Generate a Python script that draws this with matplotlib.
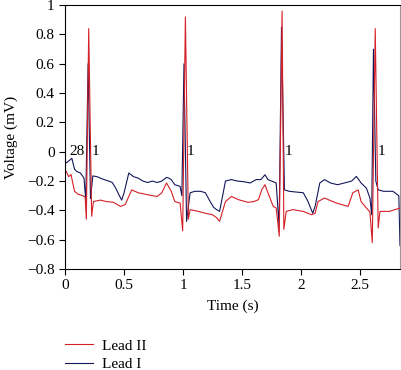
import matplotlib
matplotlib.use("Agg")
from matplotlib import pyplot as plt
from matplotlib.ticker import FuncFormatter

plt.rcParams['font.family'] = ['Liberation Serif', 'DejaVu Serif']
plt.rcParams['axes.unicode_minus'] = True

# Lead I (blue)
lead1_t = [0.00, 0.02, 0.057, 0.08, 0.10, 0.13, 0.16, 0.175, 0.195, 0.215, 0.235,
           0.27, 0.30, 0.33, 0.37, 0.40, 0.43, 0.46, 0.48, 0.50, 0.54, 0.58, 0.62,
           0.66, 0.70, 0.74, 0.78, 0.82, 0.86, 0.88, 0.90, 0.93, 0.975, 0.99, 1.008,
           1.03, 1.06, 1.10, 1.15, 1.19, 1.23, 1.26, 1.285, 1.31, 1.36, 1.41, 1.46,
           1.52, 1.57, 1.62, 1.66, 1.695, 1.72, 1.79, 1.815, 1.835, 1.86, 1.90, 1.96,
           2.02, 2.06, 2.10, 2.12, 2.16, 2.20, 2.25, 2.31, 2.36, 2.43, 2.47, 2.51,
           2.555, 2.585, 2.60, 2.615, 2.635, 2.655, 2.70, 2.78, 2.83, 2.84]
lead1_v = [-0.08, -0.07, -0.045, -0.12, -0.135, -0.145, -0.18, -0.33, 0.60, -0.32, -0.165,
           -0.17, -0.18, -0.19, -0.20, -0.21, -0.25, -0.30, -0.33, -0.28, -0.145, -0.17, -0.18,
           -0.20, -0.21, -0.20, -0.21, -0.20, -0.175, -0.18, -0.19, -0.225, -0.236, -0.30, 0.60,
           -0.475, -0.28, -0.27, -0.27, -0.28, -0.34, -0.38, -0.395, -0.407, -0.20, -0.19, -0.20,
           -0.205, -0.213, -0.19, -0.19, -0.157, -0.19, -0.213, -0.51, 0.85, -0.26, -0.27, -0.275,
           -0.28, -0.34, -0.42, -0.373, -0.213, -0.19, -0.213, -0.225, -0.215, -0.20, -0.168, -0.213,
           -0.248, -0.316, -0.43, 0.70, -0.20, -0.26, -0.27, -0.27, -0.30, -0.64]

# Lead II (red)
lead2_t = [0.00, 0.03, 0.05, 0.065, 0.08, 0.11, 0.15, 0.17, 0.18, 0.20, 0.225, 0.24,
           0.30, 0.35, 0.41, 0.47, 0.51, 0.565, 0.62, 0.68, 0.74, 0.78, 0.82, 0.86,
           0.90, 0.93, 0.975, 0.997, 1.02, 1.045, 1.06, 1.12, 1.19, 1.25, 1.285, 1.31,
           1.36, 1.41, 1.47, 1.55, 1.60, 1.64, 1.667, 1.695, 1.72, 1.765, 1.79, 1.816,
           1.84, 1.855, 1.875, 1.93, 2.02, 2.09, 2.12, 2.145, 2.20, 2.30, 2.40, 2.44,
           2.485, 2.51, 2.555, 2.585, 2.605, 2.63, 2.655, 2.67, 2.75, 2.84]
lead2_v = [-0.12, -0.17, -0.155, -0.215, -0.27, -0.29, -0.30, -0.31, -0.46, 0.84, -0.44, -0.34,
           -0.33, -0.34, -0.345, -0.373, -0.36, -0.26, -0.28, -0.29, -0.30, -0.305, -0.28, -0.213,
           -0.27, -0.34, -0.35, -0.54, 0.92, -0.46, -0.395, -0.405, -0.42, -0.43, -0.45, -0.475,
           -0.34, -0.305, -0.327, -0.345, -0.34, -0.327, -0.26, -0.225, -0.28, -0.373, -0.384, -0.577,
           0.96, -0.53, -0.407, -0.395, -0.407, -0.43, -0.42, -0.34, -0.316, -0.35, -0.373, -0.28,
           -0.26, -0.34, -0.384, -0.41, -0.62, 0.84, -0.52, -0.407, -0.407, -0.384]

# beat annotations
ann_t = [0.04, 0.225, 1.035, 1.865, 2.65]
ann_txt = ["28", "1", "1", "1", "1"]

fs = 11

fig = plt.figure(figsize=(4.02, 3.70), dpi=100)
ax = fig.add_axes([0.162, 0.273, 0.833, 0.713])

l1, = ax.plot(lead1_t, lead1_v, color='#14185a', lw=0.8, label='Lead I')
l2, = ax.plot(lead2_t, lead2_v, color='#d42026', lw=0.8, label='Lead II')

for t, s in zip(ann_t, ann_txt):
    ax.text(t, 0.0, s, fontsize=fs, va='center', ha='left')

ax.set_xlim(0, 2.84)
ax.set_ylim(-0.8, 1.0)
ax.set_xticks([0, 0.5, 1, 1.5, 2, 2.5])
ax.set_yticks([-0.8, -0.6, -0.4, -0.2, 0, 0.2, 0.4, 0.6, 0.8, 1])
fmt = FuncFormatter(lambda v, p: ('%g' % v).replace('-', '\u2212'))
ax.xaxis.set_major_formatter(fmt)
ax.yaxis.set_major_formatter(fmt)
ax.tick_params(labelsize=fs, direction='out', length=4, width=0.8, top=False, right=False)
ax.spines['right'].set_color('#999999')
ax.set_xlabel("Time (s)", fontsize=fs, labelpad=5)
ax.set_ylabel("Voltage (mV)", fontsize=fs)
ax.yaxis.set_label_coords(-0.14, 0.5)

fig.legend([l2, l1], ['Lead II', 'Lead I'], loc='upper left', bbox_to_anchor=(0.162, 0.084),
           frameon=False, fontsize=fs, handlelength=1.8, handletextpad=0.6,
           labelspacing=0.32, borderaxespad=0, borderpad=0)

fig.savefig("out.png", dpi=100)
